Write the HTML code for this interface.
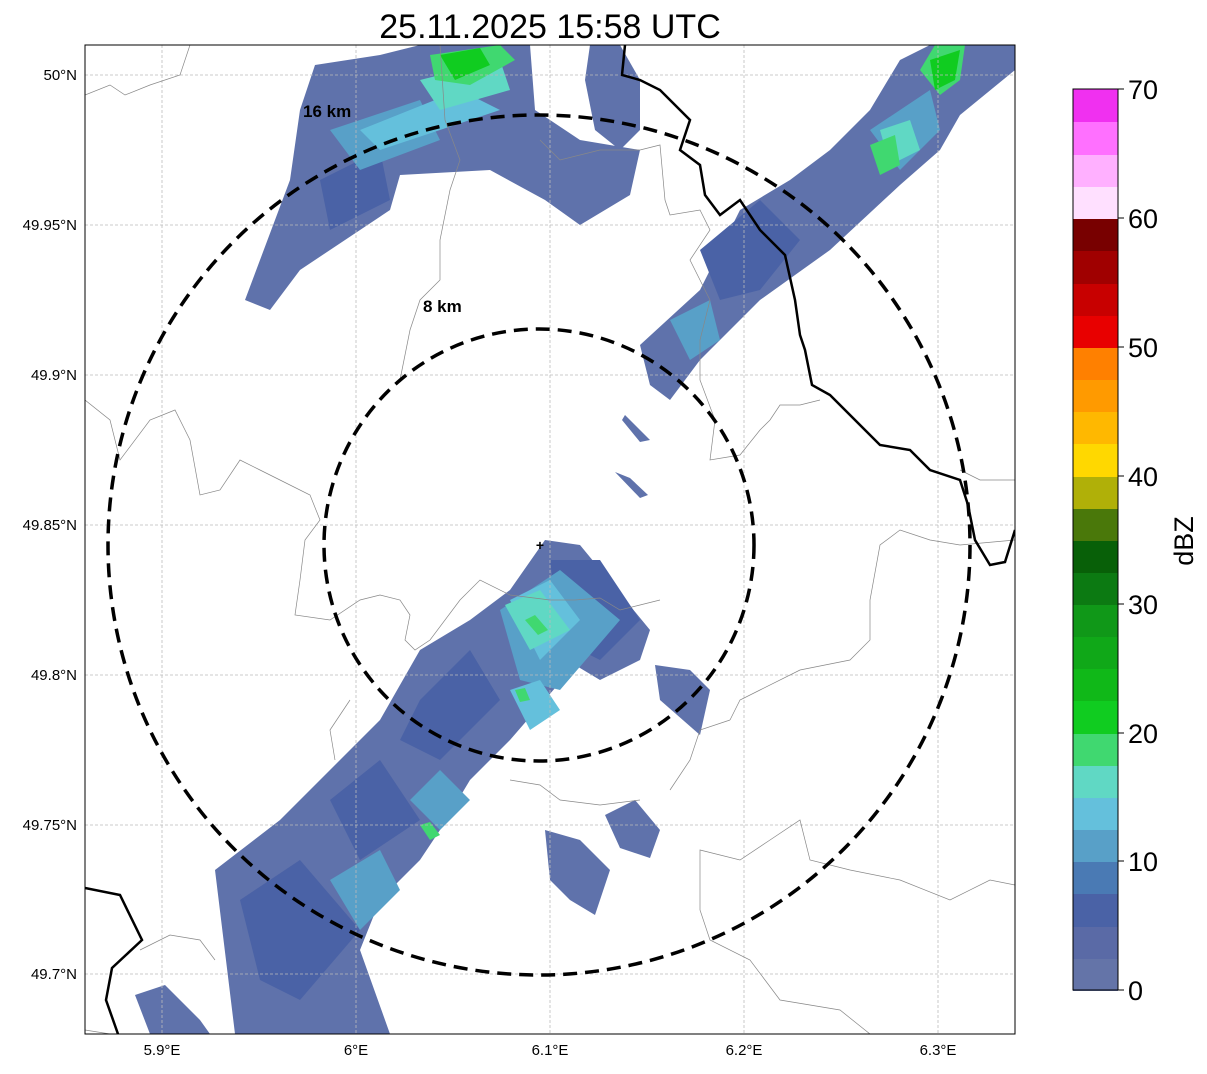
<!DOCTYPE html>
<html><head><meta charset="utf-8"><style>
body{margin:0;background:#fff;}
svg text{font-family:"Liberation Sans",sans-serif;}
</style></head><body>
<svg width="1207" height="1069" xmlns="http://www.w3.org/2000/svg">
<rect width="1207" height="1069" fill="#fff"/>
<text x="550" y="38" font-size="34" text-anchor="middle">25.11.2025 15:58 UTC</text>
<defs><clipPath id="c"><rect x="85" y="45" width="930" height="989"/></clipPath></defs>
<g clip-path="url(#c)">
<!-- echoes -->
<g fill="#5f72ab">
<polygon points="545,540 580,545 650,630 640,660 600,680 575,665 510,740 470,780 440,830 420,860 400,880 380,900 360,950 390,1034 235,1034 215,870 280,820 330,770 380,720 420,650 470,620 510,590"/>
<polygon points="315,65 380,55 420,45 530,45 535,110 580,140 640,150 630,195 580,225 545,200 490,170 400,175 390,210 300,270 270,310 245,300 260,260 290,180 300,110"/>
<polygon points="640,345 700,290 740,210 790,180 830,150 870,110 900,60 930,45 1015,45 1015,70 960,115 940,150 900,185 830,250 760,300 700,360 670,400 650,385"/>
<polygon points="590,45 620,45 640,80 640,130 620,150 595,130 585,80"/>
<polygon points="655,665 690,670 710,690 700,735 660,700"/>
<polygon points="545,830 580,840 610,870 595,915 570,900 550,880"/>
<polygon points="605,815 635,800 660,830 650,858 620,848"/>
<polygon points="135,995 165,985 200,1020 210,1034 150,1034"/>
<polygon points="625,415 650,440 640,442 622,420"/>
<polygon points="615,472 630,478 648,495 640,498"/>
</g>
<g fill="#4a62a6">
<polygon points="550,560 600,560 640,620 600,660 560,640"/>
<polygon points="420,700 470,650 500,700 440,760 400,740"/>
<polygon points="240,900 300,860 360,930 300,1000 260,980"/>
<polygon points="330,800 380,760 420,820 360,860"/>
<polygon points="700,250 760,200 800,240 760,290 720,300"/>
<polygon points="320,180 380,150 390,200 330,230"/>
</g>
<g fill="#58a0c8">
<polygon points="500,610 560,570 620,620 560,690 520,680"/>
<polygon points="410,800 440,770 470,800 440,830"/>
<polygon points="330,880 380,850 400,890 360,930"/>
<polygon points="330,130 420,100 440,140 360,170"/>
<polygon points="870,130 930,90 940,130 900,170"/>
<polygon points="670,320 710,300 720,340 690,360"/>
</g>
<g fill="#64c0dc">
<polygon points="510,600 550,580 580,620 540,660"/>
<polygon points="510,690 540,680 560,710 530,730"/>
<polygon points="360,130 460,90 500,110 380,150"/>
</g>
<g fill="#60d8c4">
<polygon points="505,605 540,590 570,630 530,650"/>
<polygon points="420,80 500,60 510,90 440,110"/>
<polygon points="880,130 910,120 920,150 890,165"/>
</g>
<g fill="#40d870">
<polygon points="525,620 535,615 548,630 538,635"/>
<polygon points="515,690 525,688 530,700 520,702"/>
<polygon points="420,825 430,822 440,835 430,840"/>
<polygon points="430,55 500,45 515,60 470,85 435,80"/>
<polygon points="935,45 965,45 960,80 940,95 920,70"/>
<polygon points="870,145 895,135 900,165 880,175"/>
</g>
<g fill="#10cc20">
<polygon points="440,55 480,48 490,65 455,80"/>
<polygon points="930,60 960,50 955,80 935,90"/>
</g>
<!-- grid -->
<g stroke="#bbb" stroke-width="0.8" stroke-dasharray="3,2">
<line x1="162" y1="45" x2="162" y2="1034"/><line x1="356" y1="45" x2="356" y2="1034"/><line x1="550" y1="45" x2="550" y2="1034"/><line x1="744" y1="45" x2="744" y2="1034"/><line x1="938" y1="45" x2="938" y2="1034"/>
<line x1="85" y1="75" x2="1015" y2="75"/><line x1="85" y1="225" x2="1015" y2="225"/><line x1="85" y1="375" x2="1015" y2="375"/><line x1="85" y1="525" x2="1015" y2="525"/><line x1="85" y1="675" x2="1015" y2="675"/><line x1="85" y1="825" x2="1015" y2="825"/><line x1="85" y1="974" x2="1015" y2="974"/>
</g>
<!-- thin borders -->
<g fill="none" stroke="#888" stroke-width="0.7">
<path d="M85,95 L110,85 L125,95 L150,85 L180,75 L190,45"/>
<path d="M85,400 L110,420 L120,460 L150,420 L175,410 L190,440 L200,495 L220,490 L240,460 L260,470 L280,480 L310,495 L320,520 L305,540 L300,580 L295,615 L330,620 L360,600 L380,595 L400,600 L410,615 L405,640 L415,650 L430,640 L460,600 L480,580 L510,595 L550,600 L575,600 L600,598 L620,610 L640,605 L660,600"/>
<path d="M440,45 L445,120 L460,160 L450,190 L440,240 L440,280 L420,300 L410,330 L400,380"/>
<path d="M540,140 L560,160 L600,150 L640,150 L660,145 L665,200 L670,215 L700,210 L710,230 L690,260 L710,300 L700,340 L700,380 L715,420 L710,460 L740,455 L760,430 L770,420 L780,405 L800,405 L820,400"/>
<path d="M1015,480 L980,480 L960,470"/>
<path d="M1015,540 L960,545 L930,540 L900,530 L880,545 L870,600 L870,640 L850,660 L800,670 L760,690 L740,700 L730,720"/>
<path d="M85,1030 L110,1034"/>
<path d="M1015,885 L990,880 L950,900 L900,880 L850,870 L810,860 L800,820 L770,840 L740,860 L700,850 L700,880 L700,910 L710,940 L750,960 L780,1000 L840,1010 L870,1034"/>
<path d="M140,950 L170,935 L200,940 L215,960"/>
<path d="M350,700 L330,730 L335,760"/>
<path d="M730,720 L700,730 L690,760 L670,790"/>
<path d="M510,780 L540,785 L560,800 L600,805 L640,800"/>
</g>
<!-- thick borders -->
<g fill="none" stroke="#000" stroke-width="2.5">
<path d="M625,45 L622,75 L640,80 L660,90 L690,120 L680,150 L700,165 L705,195 L720,215 L740,200 L760,230 L785,255 L795,300 L800,335 L805,350 L812,385 L830,395 L860,425 L880,445 L910,450 L930,470 L960,480 L968,505 L975,540 L990,565 L1005,562 L1015,530"/>
<path d="M85,888 L120,895 L142,940 L112,968 L106,1000 L118,1034"/>
</g>
<!-- range rings -->
<g fill="none" stroke="#000" stroke-width="3.5" stroke-dasharray="14,8">
<ellipse cx="539" cy="545" rx="215" ry="216"/>
<ellipse cx="539" cy="545" rx="431" ry="430"/>
</g>
<text x="540" y="550" font-size="14" font-weight="bold" text-anchor="middle">+</text>
<text x="423" y="312" font-size="17" font-weight="bold">8 km</text>
<text x="303" y="117" font-size="17" font-weight="bold">16 km</text>
</g>
<rect x="85" y="45" width="930" height="989" fill="none" stroke="#000" stroke-width="1"/>
<!-- ticks -->
<g font-size="15" text-anchor="middle">
<text x="162" y="1055">5.9°E</text><text x="356" y="1055">6°E</text><text x="550" y="1055">6.1°E</text><text x="744" y="1055">6.2°E</text><text x="938" y="1055">6.3°E</text>
</g>
<g font-size="15" text-anchor="end">
<text x="77" y="80">50°N</text><text x="77" y="230">49.95°N</text><text x="77" y="380">49.9°N</text><text x="77" y="530">49.85°N</text><text x="77" y="680">49.8°N</text><text x="77" y="830">49.75°N</text><text x="77" y="979">49.7°N</text>
</g>
<!-- colorbar -->
<g>
<rect x="1073" y="958" width="45" height="33" fill="#6474a8"/>
<rect x="1073" y="926" width="45" height="33" fill="#5a6aa6"/>
<rect x="1073" y="894" width="45" height="33" fill="#4a62a6"/>
<rect x="1073" y="861" width="45" height="33" fill="#4a7ab4"/>
<rect x="1073" y="829" width="45" height="33" fill="#58a0c8"/>
<rect x="1073" y="797" width="45" height="33" fill="#64c0dc"/>
<rect x="1073" y="765" width="45" height="33" fill="#60d8c4"/>
<rect x="1073" y="733" width="45" height="33" fill="#40d870"/>
<rect x="1073" y="701" width="45" height="33" fill="#10cc20"/>
<rect x="1073" y="668" width="45" height="33" fill="#10b818"/>
<rect x="1073" y="636" width="45" height="33" fill="#10a818"/>
<rect x="1073" y="604" width="45" height="33" fill="#109818"/>
<rect x="1073" y="572" width="45" height="33" fill="#0c7a12"/>
<rect x="1073" y="540" width="45" height="33" fill="#086008"/>
<rect x="1073" y="508" width="45" height="33" fill="#4a780a"/>
<rect x="1073" y="476" width="45" height="33" fill="#b0b008"/>
<rect x="1073" y="444" width="45" height="33" fill="#ffd800"/>
<rect x="1073" y="411" width="45" height="33" fill="#ffb800"/>
<rect x="1073" y="379" width="45" height="33" fill="#ff9a00"/>
<rect x="1073" y="347" width="45" height="33" fill="#ff8000"/>
<rect x="1073" y="315" width="45" height="33" fill="#e80000"/>
<rect x="1073" y="283" width="45" height="33" fill="#c80000"/>
<rect x="1073" y="251" width="45" height="33" fill="#a00000"/>
<rect x="1073" y="218" width="45" height="33" fill="#780000"/>
<rect x="1073" y="186" width="45" height="33" fill="#ffe0ff"/>
<rect x="1073" y="154" width="45" height="33" fill="#ffb0ff"/>
<rect x="1073" y="122" width="45" height="33" fill="#ff70ff"/>
<rect x="1073" y="89" width="45" height="33" fill="#f030f0"/>
<rect x="1073" y="89" width="45" height="901" fill="none" stroke="#000" stroke-width="1"/>
</g>
<g stroke="#000"><line x1="1118" y1="990" x2="1124" y2="990"/><line x1="1118" y1="861" x2="1124" y2="861"/><line x1="1118" y1="733" x2="1124" y2="733"/><line x1="1118" y1="604" x2="1124" y2="604"/><line x1="1118" y1="476" x2="1124" y2="476"/><line x1="1118" y1="347" x2="1124" y2="347"/><line x1="1118" y1="218" x2="1124" y2="218"/><line x1="1118" y1="89" x2="1124" y2="89"/></g>
<g font-size="27">
<text x="1128" y="1000">0</text><text x="1128" y="871">10</text><text x="1128" y="743">20</text><text x="1128" y="614">30</text><text x="1128" y="486">40</text><text x="1128" y="357">50</text><text x="1128" y="228">60</text><text x="1128" y="99">70</text>
</g>
<text x="1193" y="541" font-size="27" text-anchor="middle" transform="rotate(-90 1193 541)">dBZ</text>
</svg>
</body></html>
